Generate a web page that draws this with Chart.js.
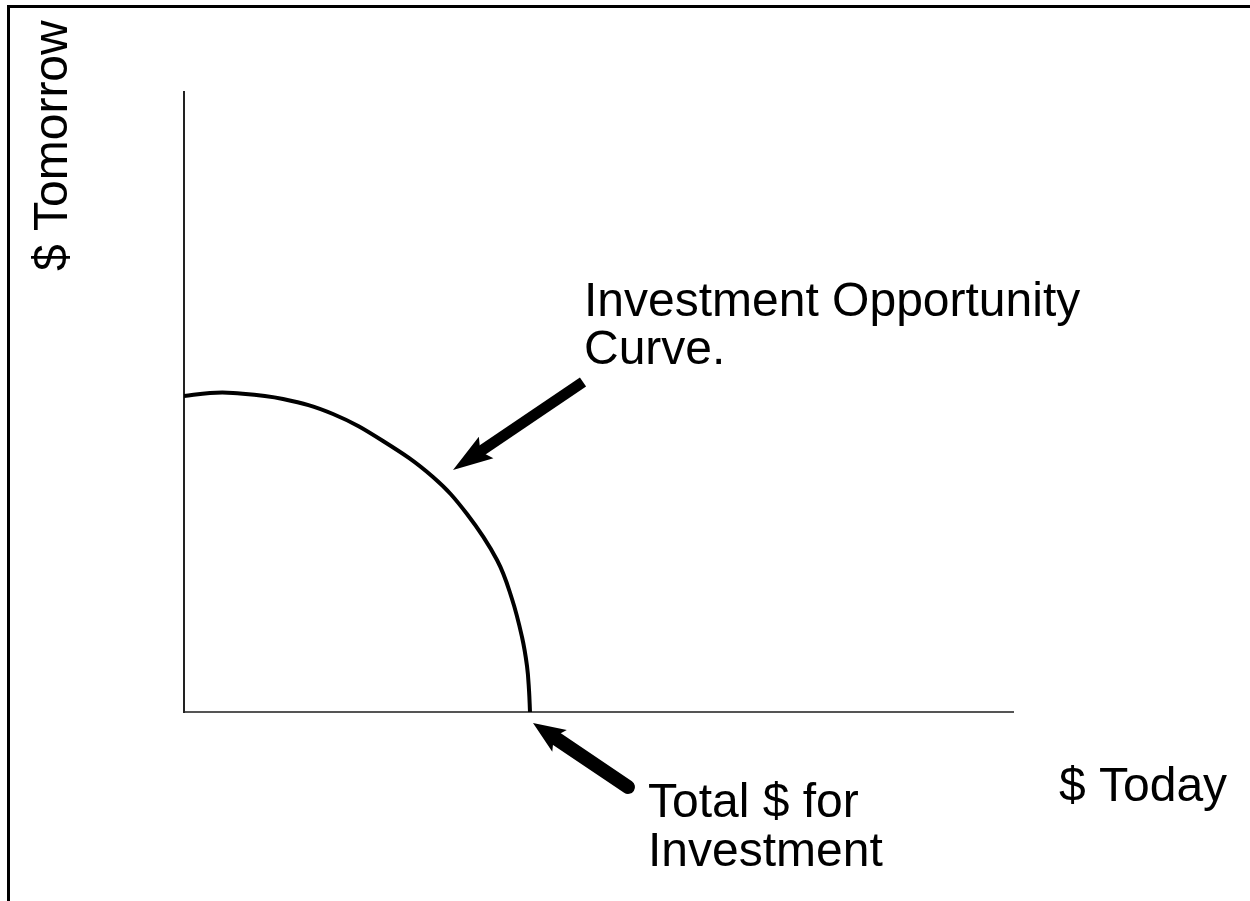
<!DOCTYPE html>
<html>
<head>
<meta charset="utf-8">
<script src="https://cdn.jsdelivr.net/npm/chart.js@4/dist/chart.umd.min.js"></script>
<style>
  html,body{margin:0;padding:0;background:#fff;width:1250px;height:901px;overflow:hidden;}
  #wrap{position:absolute;left:0;top:0;width:1250px;height:901px;}
  #frame{position:absolute;left:7px;top:5px;width:1250px;height:900px;border-top:3px solid #000;border-left:3px solid #000;pointer-events:none;}
</style>
</head>
<body>
<div id="wrap"><canvas id="c" width="1250" height="901"></canvas></div>
<div id="frame"></div>
<script>
// Curve data (x = $ Today, y = $ Tomorrow), arbitrary units
const curveX = [0, 26, 49, 99, 149, 199, 249, 283, 313, 328, 338, 343, 345, 346];
const curveY = [316, 319, 319, 313, 298, 271, 235, 198, 152, 113, 75, 46, 22, 0];
// Axis ranges
const xRange = [0, 829];
const yRange = [0, 620];
// Annotation arrows: [tailX, tailY, tipX, tipY]
const arrowCurve = [399, 330, 269, 242];
const arrowTotal = [444, -75, 349, -11];
// Labels
const yAxisLabel = "$ Tomorrow";
const xAxisLabel = "$ Today";
const curveLabel = ["Investment Opportunity", "Curve."];
const totalLabel = ["Total $ for", "Investment"];

const points = curveX.map((x, i) => ({x: x, y: curveY[i]}));

const FONT = '48px "Liberation Sans", Arial, sans-serif';

const annot = {
  id: 'annot',
  afterDraw(chart) {
    const ctx = chart.ctx;
    const xs = chart.scales.x, ys = chart.scales.y;
    const px = v => xs.getPixelForValue(v), py = v => ys.getPixelForValue(v);

    function arrow(a, shaftW, headLen, headHalf, roundCap) {
      const x1 = px(a[0]), y1 = py(a[1]), x2 = px(a[2]), y2 = py(a[3]);
      const dx = x2 - x1, dy = y2 - y1, L = Math.hypot(dx, dy);
      const ux = dx / L, uy = dy / L, nx = -uy, ny = ux;
      const bx = x2 - ux * headLen, by = y2 - uy * headLen;
      ctx.save();
      ctx.strokeStyle = '#000'; ctx.fillStyle = '#000';
      ctx.lineWidth = shaftW; ctx.lineCap = roundCap ? 'round' : 'butt';
      ctx.beginPath(); ctx.moveTo(x1, y1); ctx.lineTo(bx + ux * 6, by + uy * 6); ctx.stroke();
      ctx.beginPath();
      ctx.moveTo(x2, y2);
      ctx.lineTo(bx + nx * headHalf - ux * 2, by + ny * headHalf - uy * 2);
      ctx.lineTo(bx + ux * 5, by + uy * 5);
      ctx.lineTo(bx - nx * headHalf - ux * 2, by - ny * headHalf - uy * 2);
      ctx.closePath(); ctx.fill();
      ctx.restore();
    }
    arrow(arrowCurve, 11, 38, 13, false);
    arrow(arrowTotal, 14, 30, 13, true);

    ctx.save();
    ctx.fillStyle = '#000';
    ctx.font = FONT;
    ctx.textBaseline = 'alphabetic';
    ctx.textAlign = 'left';
    ctx.fillText(curveLabel[0], 584, 316);
    ctx.fillText(curveLabel[1], 584, 364);
    ctx.fillText(totalLabel[0], 648, 817);
    ctx.fillText(totalLabel[1], 648, 866);
    ctx.fillText(xAxisLabel, 1059, 801);
    ctx.save();
    ctx.translate(67, 271);
    ctx.rotate(-Math.PI / 2);
    ctx.fillText(yAxisLabel, 0, 0);
    ctx.restore();
    ctx.restore();
  }
};

new Chart(document.getElementById('c'), {
  type: 'scatter',
  data: {
    datasets: [{
      data: points,
      showLine: true,
      borderColor: '#000',
      borderWidth: 4,
      pointRadius: 0,
      tension: 0.4,
      fill: false
    }]
  },
  options: {
    responsive: false,
    animation: false,
    events: [],
    layout: {padding: {left: 184, right: 237, top: 92, bottom: 189}},
    plugins: {legend: {display: false}, tooltip: {enabled: false}, title: {display: false}},
    scales: {
      x: {
        type: 'linear', min: xRange[0], max: xRange[1],
        grid: {display: false, drawTicks: false},
        border: {display: true, color: '#555', width: 2},
        ticks: {display: false}
      },
      y: {
        type: 'linear', min: yRange[0], max: yRange[1],
        grid: {display: false, drawTicks: false},
        border: {display: true, color: '#222', width: 2},
        ticks: {display: false}
      }
    }
  },
  plugins: [annot]
});
</script>
</body>
</html>
